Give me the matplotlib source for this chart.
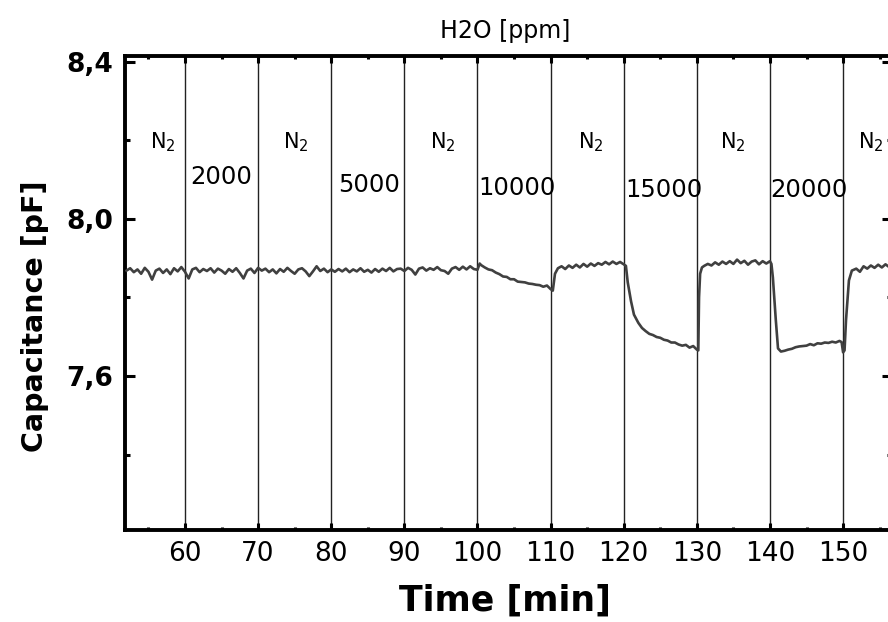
import matplotlib
matplotlib.use("Agg")
import matplotlib.pyplot as plt

# Capacitance trace (time in min, capacitance in pF)
time_min = [
    52.0, 52.5, 53.0, 53.5, 54.0, 54.5, 55.0, 55.5, 56.0, 56.5, 57.0, 57.5,
    58.0, 58.5, 59.0, 59.5, 60.0, 60.5, 61.0, 61.5, 62.0, 62.5, 63.0, 63.5,
    64.0, 64.5, 65.0, 65.5, 66.0, 66.5, 67.0, 67.5, 68.0, 68.5, 69.0, 69.5,
    70.0, 70.5, 71.0, 71.5, 72.0, 72.5, 73.0, 73.5, 74.0, 74.5, 75.0, 75.5,
    76.0, 76.5, 77.0, 77.5, 78.0, 78.5, 79.0, 79.5, 80.0, 80.5, 81.0, 81.5,
    82.0, 82.5, 83.0, 83.5, 84.0, 84.5, 85.0, 85.5, 86.0, 86.5, 87.0, 87.5,
    88.0, 88.5, 89.0, 89.5, 90.0, 90.5, 91.0, 91.5, 92.0, 92.5, 93.0, 93.5,
    94.0, 94.5, 95.0, 95.5, 96.0, 96.5, 97.0, 97.5, 98.0, 98.5, 99.0, 99.5,
    100.0, 100.3, 100.5, 101.0, 101.5, 102.0, 102.5, 103.0, 103.5, 104.0,
    104.5, 105.0, 105.5, 106.0, 106.5, 107.0, 107.5, 108.0, 108.5, 109.0,
    109.5, 110.0, 110.3, 110.6, 111.0, 111.5, 112.0, 112.5, 113.0, 113.5,
    114.0, 114.5, 115.0, 115.5, 116.0, 116.5, 117.0, 117.5, 118.0, 118.5,
    119.0, 119.5, 120.0, 120.3, 120.55, 121.0, 121.4, 122.0, 122.5, 123.0,
    123.5, 124.0, 124.5, 125.0, 125.5, 126.0, 126.5, 127.0, 127.5, 128.0,
    128.5, 129.0, 129.5, 130.0, 130.2, 130.3, 130.45, 130.7, 131.0, 131.5,
    132.0, 132.5, 133.0, 133.5, 134.0, 134.5, 135.0, 135.5, 136.0, 136.5,
    137.0, 137.5, 138.0, 138.5, 139.0, 139.5, 140.0, 140.2, 140.4, 140.8,
    141.1, 141.5, 142.0, 142.5, 143.0, 143.5, 144.0, 144.5, 145.0, 145.5,
    146.0, 146.5, 147.0, 147.5, 148.0, 148.5, 149.0, 149.5, 149.8, 150.0,
    150.2, 150.4, 150.8, 151.2, 151.8, 152.3, 152.8, 153.3, 153.8, 154.3,
    154.8, 155.3, 155.8, 156.3, 157.0,
]
capacitance_pf = [
    7.868, 7.874, 7.864, 7.871, 7.860, 7.875, 7.865, 7.845, 7.868, 7.873, 7.862, 7.871,
    7.859, 7.874, 7.866, 7.877, 7.865, 7.848, 7.871, 7.875, 7.864, 7.872, 7.867, 7.874,
    7.863, 7.873, 7.868, 7.860, 7.872, 7.865, 7.874, 7.862, 7.848, 7.868, 7.873, 7.862,
    7.875, 7.868, 7.873, 7.864, 7.871, 7.861, 7.872, 7.865, 7.875, 7.867, 7.860, 7.871,
    7.874, 7.866, 7.854, 7.866, 7.879, 7.867, 7.873, 7.864, 7.871, 7.865, 7.872, 7.866,
    7.873, 7.864, 7.871, 7.866, 7.874, 7.865, 7.870, 7.863, 7.872, 7.865, 7.873, 7.867,
    7.875, 7.866, 7.872, 7.873, 7.867, 7.875, 7.870, 7.858, 7.873, 7.876, 7.868, 7.874,
    7.870, 7.877, 7.869, 7.867, 7.860, 7.873, 7.877, 7.870, 7.878, 7.871, 7.879, 7.872,
    7.870, 7.886, 7.882, 7.876, 7.871, 7.869, 7.863, 7.859, 7.853, 7.852,
    7.846, 7.846, 7.840, 7.839, 7.838, 7.835, 7.834, 7.832, 7.831, 7.827,
    7.830, 7.821, 7.817, 7.860, 7.874, 7.879, 7.872, 7.881, 7.875, 7.883,
    7.876, 7.885, 7.878, 7.886, 7.880, 7.887, 7.883, 7.890, 7.884, 7.891,
    7.885, 7.890, 7.884, 7.880, 7.838, 7.790, 7.756, 7.735, 7.722, 7.714,
    7.707, 7.704, 7.699, 7.697, 7.692, 7.690, 7.685, 7.685, 7.680, 7.677,
    7.679, 7.672, 7.676, 7.667, 7.665, 7.800, 7.860, 7.876, 7.880, 7.885,
    7.881, 7.889, 7.883, 7.891, 7.885, 7.892, 7.885, 7.896, 7.887, 7.893,
    7.883, 7.891, 7.894, 7.884, 7.892, 7.886, 7.892, 7.885, 7.850, 7.742,
    7.670, 7.662, 7.664, 7.667, 7.669, 7.673, 7.675, 7.676, 7.677, 7.681,
    7.678, 7.683, 7.682, 7.685, 7.684, 7.687, 7.685, 7.689, 7.686, 7.660,
    7.665, 7.742, 7.843, 7.868, 7.873, 7.865, 7.879, 7.873, 7.881, 7.875,
    7.883, 7.876, 7.884, 7.877, 7.882,
]

# Gas switching times and segment labels
switch_times = [60, 70, 80, 90, 100, 110, 120, 130, 140, 150]
n2_label_x = [55.2, 73.4, 93.5, 113.8, 133.2, 152.1]
n2_label_y = 8.18
ppm_labels = ["2000", "5000", "10000", "15000", "20000"]
ppm_label_x = [60.7, 80.9, 100.1, 120.2, 140.05]
ppm_label_y = [8.088, 8.068, 8.060, 8.055, 8.055]

x_ticks = [60, 70, 80, 90, 100, 110, 120, 130, 140, 150]
x_minor = [55, 65, 75, 85, 95, 105, 115, 125, 135, 145, 155]
y_ticks = [7.6, 8.0, 8.4]
y_ticklabels = ["7,6", "8,0", "8,4"]
y_minor = [7.4, 7.8, 8.2]

plt.rcParams["font.family"] = ["DejaVu Sans"]

fig = plt.figure(figsize=(8.88, 6.22), dpi=100)
ax = fig.add_axes([0.1413, 0.148, 0.8637, 0.7625])

for t in switch_times:
    ax.axvline(t, color="#222222", lw=1.0, zorder=1)

ax.plot(time_min, capacitance_pf, color="#404040", lw=1.9, zorder=3)

for x in n2_label_x:
    ax.text(x, n2_label_y, r"N$_2$", fontsize=15, ha="left", va="baseline")
for lbl, x, y in zip(ppm_labels, ppm_label_x, ppm_label_y):
    ax.text(x, y, lbl, fontsize=17.5, ha="left", va="baseline")

ax.set_xlim(51.86, 156.75)
ax.set_ylim(7.208, 8.415)

ax.set_xticks(x_ticks)
ax.set_xticklabels([str(v) for v in x_ticks])
ax.set_xticks(x_minor, minor=True)
ax.set_yticks(y_ticks)
ax.set_yticklabels(y_ticklabels)
ax.set_yticks(y_minor, minor=True)

for s in ax.spines.values():
    s.set_linewidth(2.8)

ax.tick_params(axis="both", which="both", direction="in",
               top=True, right=True, width=2.2, color="black")
ax.tick_params(axis="x", which="major", length=5, pad=8, labelsize=19)
ax.tick_params(axis="x", which="minor", length=2.5)
ax.tick_params(axis="y", which="major", length=7, pad=9, labelsize=19)
ax.tick_params(axis="y", which="minor", length=3.5)
for lab in ax.get_yticklabels():
    lab.set_fontweight("bold")

fig.text(505 / 888, 1 - 31 / 622, "H2O [ppm]", fontsize=17,
         ha="center", va="center")
fig.text(505 / 888, 1 - 601 / 622, "Time [min]", fontsize=25, fontweight="bold",
         ha="center", va="center")
fig.text(35 / 888, 1 - 316 / 622, "Capacitance [pF]", fontsize=20.5,
         fontweight="bold", rotation=90, ha="center", va="center")

fig.savefig("out.png", dpi=100)
